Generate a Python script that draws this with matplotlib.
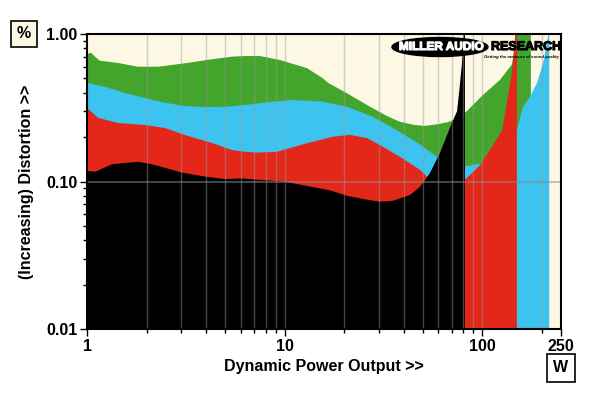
import matplotlib
matplotlib.use("Agg")
import matplotlib.pyplot as plt
import matplotlib.patheffects as pe
from matplotlib.patches import Ellipse
from matplotlib.ticker import FixedLocator, NullFormatter

plt.rcParams['font.family'] = ['Liberation Sans', 'DejaVu Sans']

# distortion (%) vs dynamic power (W)
green_w = [1.0, 1.048, 1.10, 1.16, 1.44, 1.81, 2.29, 3.13, 4.29, 5.41, 6.3, 7.5, 9.47,
           13.0, 15.6, 16.6, 20.7, 26.1, 32.9, 38.3, 45.0, 51.0, 60.0, 68.0, 75.0, 82.6,
           100.7, 122.7, 141.0, 146.0, 150.0, 155.0, 176.0]
green_pct = [0.73, 0.747, 0.70, 0.659, 0.636, 0.600, 0.600, 0.633, 0.674, 0.702, 0.709, 0.709, 0.666,
             0.586, 0.501, 0.466, 0.396, 0.330, 0.278, 0.254, 0.242, 0.238, 0.245, 0.254, 0.27, 0.296,
             0.386, 0.488, 0.62, 0.8, 1.0, 1.3, 1.3]

cyan_w = [1.0, 1.23, 1.56, 1.97, 2.48, 3.13, 3.95, 4.99, 6.3, 8.73, 11.0, 15.6, 20.7, 28.0,
          37.5, 48.4, 58.9, 70.0, 82.6, 99.5, 122.7, 149.6, 160.5, 174.0, 189.0, 203.0, 215.0,
          217.0, 218.0]
cyan_pct = [0.467, 0.439, 0.398, 0.368, 0.342, 0.325, 0.320, 0.321, 0.330, 0.348, 0.357, 0.348,
            0.321, 0.274, 0.220, 0.178, 0.147, 0.135, 0.127, 0.133, 0.17, 0.2234, 0.32, 0.374,
            0.466, 0.636, 0.954, 1.3, 1.3]

red_w = [1.0, 1.14, 1.44, 1.97, 2.48, 3.13, 4.29, 5.41, 6.3, 7.24, 9.14, 13.0, 17.5, 21.4,
         26.1, 31.4, 38.3, 48.4, 52.5, 60.0, 70.0, 82.6, 97.2, 109.0, 126.0, 133.0, 141.0,
         146.0, 148.5, 149.6]
red_pct = [0.315, 0.270, 0.249, 0.2415, 0.2305, 0.2066, 0.1824, 0.1635, 0.159, 0.157, 0.159,
           0.182, 0.201, 0.207, 0.197, 0.172, 0.147, 0.120, 0.108, 0.100, 0.098, 0.104, 0.129,
           0.163, 0.223, 0.34, 0.54, 0.91, 1.3, 1.3]

black_w = [1.0, 1.10, 1.34, 1.81, 2.13, 3.02, 3.95, 4.99, 6.08, 7.95, 10.0, 13.7, 17.0, 20.7,
           25.0, 30.3, 35.3, 43.0, 48.4, 54.3, 61.0, 66.2, 70.2, 74.5, 76.5, 78.9, 79.8, 80.7, 81.7]
black_pct = [0.118, 0.1165, 0.131, 0.136, 0.131, 0.115, 0.108, 0.104, 0.105, 0.102, 0.0997,
             0.092, 0.087, 0.080, 0.076, 0.073, 0.074, 0.081, 0.092, 0.114, 0.156, 0.205, 0.25,
             0.30, 0.417, 0.636, 0.82, 1.2, 1.3]

x_ticks = [1, 10, 100, 250]
x_labels = ['1', '10', '100', '250']
y_ticks = [0.01, 0.1, 1.0]
y_labels = ['0.01', '0.10', '1.00']

series = [
    (green_w, green_pct, '#43a52b'),
    (cyan_w, cyan_pct, '#3cc3ef'),
    (red_w, red_pct, '#e3281a'),
    (black_w, black_pct, '#000000'),
]

fig = plt.figure(figsize=(6, 3.93), dpi=100)
ax = fig.add_axes([87 / 600, 64 / 393, 474 / 600, 295 / 393])
ax.set_facecolor('#fcf8e3')

for w, pct, c in series:
    ax.fill_between(w, 1e-3, pct, color=c, lw=0, zorder=1)

ax.set_xscale('log')
ax.set_yscale('log')
ax.set_xlim(1, 250)
ax.set_ylim(0.01, 1.0)

ax.xaxis.set_major_locator(FixedLocator(x_ticks))
ax.set_xticklabels(x_labels)
minor_x = [m * d for d in (1, 10, 100) for m in range(2, 10) if m * d < 250]
ax.xaxis.set_minor_locator(FixedLocator(minor_x))
ax.xaxis.set_minor_formatter(NullFormatter())
ax.yaxis.set_major_locator(FixedLocator(y_ticks))
ax.set_yticklabels(y_labels)
minor_y = [m * d for d in (0.01, 0.1) for m in range(2, 10)]
ax.yaxis.set_minor_locator(FixedLocator(minor_y))
ax.yaxis.set_minor_formatter(NullFormatter())

for v in minor_x + [10, 100]:
    ax.axvline(v, color='#9a9a9a', alpha=0.45, lw=1, zorder=2)
ax.axhline(0.1, color='#8a8a8a', alpha=0.6, lw=1.2, zorder=2)

ax.tick_params(which='major', direction='out', length=5, width=1, labelsize=11.5, pad=2)
ax.tick_params(which='minor', direction='out', length=3, width=1)
for lab in ax.get_xticklabels() + ax.get_yticklabels():
    lab.set_fontweight('bold')
for s in ax.spines.values():
    s.set_linewidth(1.5)

ax.set_xlabel('Dynamic Power Output >>', fontsize=11.5, fontweight='bold', labelpad=4)
ax.set_ylabel('(Increasing) Distortion >>', fontsize=11.5, fontweight='bold', labelpad=9)

# unit boxes
fig.text(24 / 600, 1 - 34 / 393, '%', ha='center', va='center', fontsize=11.5, fontweight='bold',
         bbox=dict(boxstyle='square,pad=0.35', fc='#fcf8e3', ec='black', lw=1.2))
fig.text(561 / 600, 1 - 368 / 393, 'W', ha='center', va='center', fontsize=11.5, fontweight='bold',
         bbox=dict(boxstyle='square,pad=0.4', fc='white', ec='black', lw=1.2))

# logo
fig.add_artist(Ellipse((440 / 600, 1 - 47 / 393), 96 / 600, 19 / 393,
                       transform=fig.transFigure, fc='black', ec='black', zorder=10))
fig.text(441 / 600, 1 - 47 / 393, 'MILLER AUDIO', color='white', fontsize=8.5, fontweight='bold',
         ha='center', va='center', zorder=11,
         path_effects=[pe.withStroke(linewidth=0.8, foreground='white')])
fig.text(491 / 600, 1 - 47 / 393, 'RESEARCH', color='black', fontsize=9, fontweight='bold',
         ha='left', va='center', zorder=11,
         path_effects=[pe.withStroke(linewidth=0.8, foreground='black')])
fig.text(484 / 600, 1 - 57 / 393, 'Getting the measure of sound quality', color='black',
         fontsize=3.1, fontweight='bold', style='italic', ha='left', va='center', zorder=11)

fig.savefig('out.png', dpi=100)
